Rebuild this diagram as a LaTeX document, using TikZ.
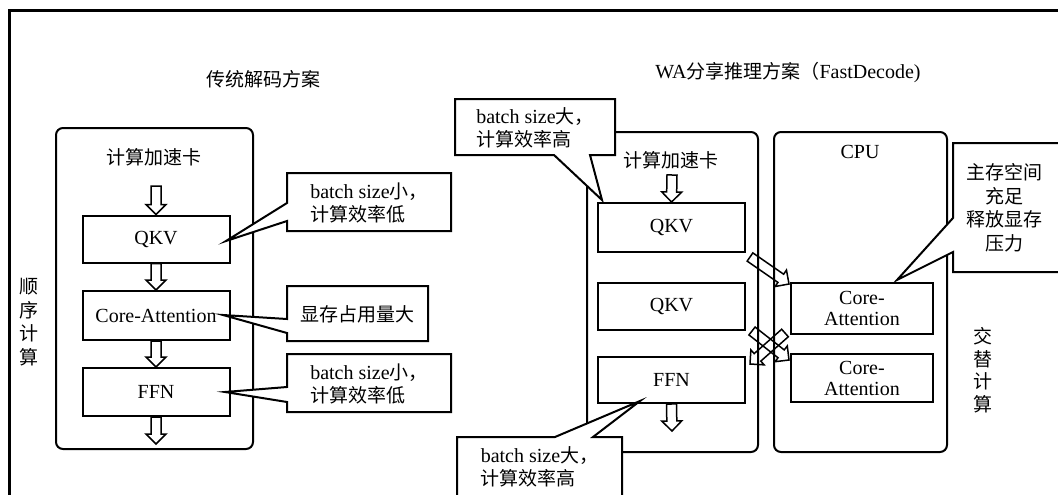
\documentclass[tikz,border=0pt]{standalone}
\usepackage{fontspec}
\setmainfont{Liberation Serif}
\newfontfamily\cjk[Scale=0.95]{Noto Sans CJK SC}
\usetikzlibrary{calc}
\newcommand\zh[1]{{\cjk #1}}
\newcommand\fs{\fontsize{20}{23}\selectfont}
\newcommand\harrow[2]{%
  \coordinate (ha-h) at ($(#2)!10pt!(#1)$);
  \draw[hollowarrow] ($(#1)!5pt!90:(#2)$) -- ($(ha-h)!5pt!90:(#2)$) -- ($(ha-h)!10pt!90:(#2)$) -- (#2)
    -- ($(ha-h)!10pt!-90:(#2)$) -- ($(ha-h)!5pt!-90:(#2)$) -- ($(#1)!5pt!-90:(#2)$) -- cycle;}
\begin{document}
\begin{tikzpicture}[x=1pt,y=-1pt,
  every node/.style={inner sep=0pt,font=\fs},
  panel/.style={draw,line width=2pt,rounded corners=7pt},
  box/.style={draw,line width=2pt,minimum width=147pt},
  hollowarrow/.style={draw,line width=1.5pt,line join=miter},
  callout/.style={draw,fill=white,line width=2pt,line join=miter},
  frame/.style={line width=3pt}]
\useasboundingbox (0,0) rectangle (1058,495);
\fill[white] (0,0) rectangle (1058,495);
% outer frame (cropped)
\draw[frame] (1058,11) -- (9.5,11) -- (9.5,495);

% ---------- left: traditional decoding ----------
\node (titleL) at (263,79) {\zh{传统解码方案}};
\node[panel,minimum width=197pt,minimum height=321pt] (accL) at (154.5,288.5) {};
\node (accLlab) at (154,157) {\zh{计算加速卡}};
\node[box,minimum height=47pt] (qkvL) at (156,239) {QKV};
\node[box,minimum height=49pt] (coreL) at (156,315.5) {Core-Attention};
\node[box,minimum height=48pt] (ffnL) at (156,392) {FFN};
\coordinate (aL0) at (156,186);
\coordinate (aL4) at (156,444);
\harrow{aL0}{qkvL.north}
\harrow{qkvL.south}{coreL.north}
\harrow{coreL.south}{ffnL.north}
\harrow{ffnL.south}{aL4}
\node[font=\fs\cjk,align=center,text height=,execute at begin node={\baselineskip=23.5pt}] (seqL) at (29,322) {顺\\序\\计\\算};

% left callouts
\path[callout] (287,173) -- (451,173) -- (451,231) -- (287,231) -- (287,221) -- (226,241) -- (287,203) -- cycle;
\node[align=left] (c1) at (369,203) {batch size\zh{小，}\\\zh{计算效率低}};
\path[callout] (287,286) -- (428,286) -- (428,341) -- (287,341) -- (287,333) -- (223,315) -- (287,319) -- cycle;
\node (c2) at (357.5,314) {\zh{显存占用量大}};
\path[callout] (287,354) -- (451,354) -- (451,412) -- (287,412) -- (287,402) -- (225,392) -- (287,387) -- cycle;
\node[align=left] (c3) at (369,384) {batch size\zh{小，}\\\zh{计算效率低}};

% ---------- right: FastDecode ----------
\node (titleR) at (788,72) {WA\zh{分享推理方案（}FastDecode)};
\node[panel,minimum width=171pt,minimum height=320pt] (accR) at (672.5,292) {};
\node[panel,minimum width=173pt,minimum height=320pt] (cpu) at (860.5,292) {};
\node (accRlab) at (671,160) {\zh{计算加速卡}};
\node (cpulab) at (860,152) {CPU};
\node[box,minimum height=49pt] (qkv1) at (671.5,227.5) {QKV};
\node[box,minimum height=47pt] (qkv2) at (671.5,306) {QKV};
\node[box,minimum height=46pt] (ffnR) at (671.5,380) {FFN};
\node[box,minimum width=142pt,minimum height=51pt,align=center,execute at begin node={\baselineskip=21pt}] (ca1) at (862,308.5) {Core-\\Attention};
\node[box,minimum width=142pt,minimum height=48pt,align=center,execute at begin node={\baselineskip=21pt}] (ca2) at (862,378) {Core-\\Attention};
\coordinate (aR0) at (672,175);
\coordinate (aR5) at (672,431);
\harrow{aR0}{qkv1.north}
\harrow{ffnR.south}{aR5}
\coordinate (s1a) at (750,257);
\coordinate (s1b) at (789,284);
\coordinate (s2a) at (752,331);
\coordinate (s2b) at (789,360);
\coordinate (s3a) at (785,333);
\coordinate (s3b) at (750,364);
\harrow{s1a}{s1b}
\harrow{s2a}{s2b}
\harrow{s3a}{s3b}
\node[font=\fs\cjk,align=center,execute at begin node={\baselineskip=22.5pt}] (altR) at (983,370) {交\\替\\计\\算};

% right callouts
\path[callout] (455,99) -- (615,99) -- (615,155) -- (590,155) -- (602,200) -- (554,155) -- (455,155) -- cycle;
\node[align=left] (c4) at (535,127.5) {batch size\zh{大，}\\\zh{计算效率高}};
\path[callout] (457,496) -- (457,437) -- (555,437) -- (640,401) -- (593,437) -- (622,437) -- (622,496);
\node[align=left] (c5) at (539.5,467) {batch size\zh{大，}\\\zh{计算效率高}};
\path[callout] (1059,143) -- (953,143) -- (953,218) -- (897,280) -- (953,252) -- (953,272) -- (1059,272);
\node[font=\fs\cjk,align=center,execute at begin node={\baselineskip=23.5pt}] (c6) at (1004,208) {主存空间\\充足\\释放显存\\压力};
\end{tikzpicture}
\end{document}
